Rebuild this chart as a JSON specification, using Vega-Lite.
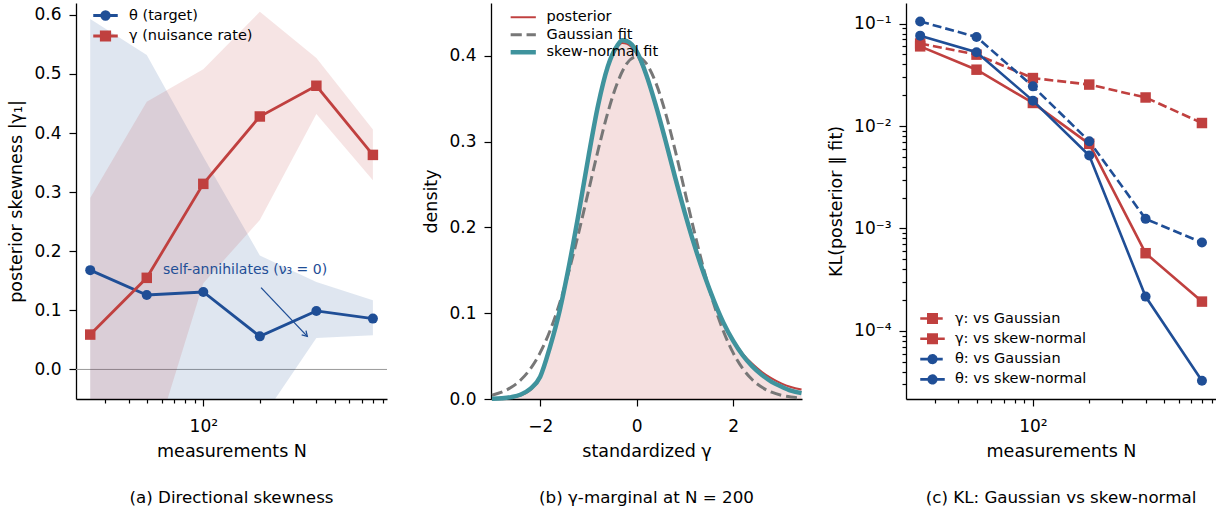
{
  "$schema": "https://vega.github.io/schema/vega-lite/v6.json",
  "padding": {"left": 7, "top": 3, "right": 0, "bottom": 0},
  "background": "white",
  "config": {
    "font": "DejaVu Sans",
    "view": {"stroke": null},
    "axis": {"domainColor": "#000", "domainWidth": 1.3, "tickColor": "#000", "tickWidth": 1.2, "tickSize": 7, "labelColor": "#000", "labelFontSize": 17, "labelPadding": 8, "titleColor": "#000", "titleFontSize": 17.5, "titleFontWeight": "normal", "titlePadding": 8, "grid": false, "labelFlush": false, "labelOverlap": false},
    "axisX": {"labelPadding": 12},
    "title": {"fontSize": 16.7, "fontWeight": "normal", "color": "#000", "orient": "bottom", "anchor": "middle", "offset": 30},
    "legend": {"labelFontSize": 14.5, "labelColor": "#000", "padding": 0}
  },
  "datasets": {
    "skewA": [
      {"N": 25, "series": "θ (target)", "val": 0.168, "lo": -0.3, "hi": 0.593},
      {"N": 50, "series": "θ (target)", "val": 0.126, "lo": -0.25, "hi": 0.532},
      {"N": 100, "series": "θ (target)", "val": 0.131, "lo": -0.2, "hi": 0.36},
      {"N": 200, "series": "θ (target)", "val": 0.056, "lo": -0.088, "hi": 0.193},
      {"N": 400, "series": "θ (target)", "val": 0.099, "lo": 0.053, "hi": 0.148},
      {"N": 800, "series": "θ (target)", "val": 0.086, "lo": 0.058, "hi": 0.117},
      {"N": 25, "series": "γ (nuisance rate)", "val": 0.059, "lo": -0.3, "hi": 0.29},
      {"N": 50, "series": "γ (nuisance rate)", "val": 0.155, "lo": -0.164, "hi": 0.453},
      {"N": 100, "series": "γ (nuisance rate)", "val": 0.314, "lo": 0.146, "hi": 0.508},
      {"N": 200, "series": "γ (nuisance rate)", "val": 0.428, "lo": 0.253, "hi": 0.605},
      {"N": 400, "series": "γ (nuisance rate)", "val": 0.48, "lo": 0.432, "hi": 0.527},
      {"N": 800, "series": "γ (nuisance rate)", "val": 0.363, "lo": 0.32, "hi": 0.406}
    ],
    "dens": [
      {"z": -3.0, "d": 0.0002, "curve": "posterior"},
      {"z": -2.8, "d": 0.0006, "curve": "posterior"},
      {"z": -2.6, "d": 0.0016, "curve": "posterior"},
      {"z": -2.4, "d": 0.0042, "curve": "posterior"},
      {"z": -2.2, "d": 0.0105, "curve": "posterior"},
      {"z": -2.0, "d": 0.0245, "curve": "posterior"},
      {"z": -1.8, "d": 0.059, "curve": "posterior"},
      {"z": -1.6, "d": 0.101, "curve": "posterior"},
      {"z": -1.4, "d": 0.156, "curve": "posterior"},
      {"z": -1.2, "d": 0.217, "curve": "posterior"},
      {"z": -1.0, "d": 0.282, "curve": "posterior"},
      {"z": -0.8, "d": 0.341, "curve": "posterior"},
      {"z": -0.6, "d": 0.386, "curve": "posterior"},
      {"z": -0.4, "d": 0.41, "curve": "posterior"},
      {"z": -0.3, "d": 0.415, "curve": "posterior"},
      {"z": -0.2, "d": 0.414, "curve": "posterior"},
      {"z": 0.0, "d": 0.402, "curve": "posterior"},
      {"z": 0.2, "d": 0.376, "curve": "posterior"},
      {"z": 0.4, "d": 0.34, "curve": "posterior"},
      {"z": 0.6, "d": 0.299, "curve": "posterior"},
      {"z": 0.8, "d": 0.256, "curve": "posterior"},
      {"z": 1.0, "d": 0.215, "curve": "posterior"},
      {"z": 1.2, "d": 0.177, "curve": "posterior"},
      {"z": 1.4, "d": 0.143, "curve": "posterior"},
      {"z": 1.6, "d": 0.114, "curve": "posterior"},
      {"z": 1.8, "d": 0.089, "curve": "posterior"},
      {"z": 2.0, "d": 0.069, "curve": "posterior"},
      {"z": 2.2, "d": 0.053, "curve": "posterior"},
      {"z": 2.4, "d": 0.041, "curve": "posterior"},
      {"z": 2.6, "d": 0.0315, "curve": "posterior"},
      {"z": 2.8, "d": 0.024, "curve": "posterior"},
      {"z": 3.0, "d": 0.0182, "curve": "posterior"},
      {"z": 3.2, "d": 0.014, "curve": "posterior"},
      {"z": 3.42, "d": 0.011, "curve": "posterior"},
      {"z": -3.0, "d": 0.00443, "curve": "Gaussian fit"},
      {"z": -2.8, "d": 0.00792, "curve": "Gaussian fit"},
      {"z": -2.6, "d": 0.01358, "curve": "Gaussian fit"},
      {"z": -2.4, "d": 0.02239, "curve": "Gaussian fit"},
      {"z": -2.2, "d": 0.03547, "curve": "Gaussian fit"},
      {"z": -2.0, "d": 0.05399, "curve": "Gaussian fit"},
      {"z": -1.8, "d": 0.07895, "curve": "Gaussian fit"},
      {"z": -1.6, "d": 0.11092, "curve": "Gaussian fit"},
      {"z": -1.4, "d": 0.14973, "curve": "Gaussian fit"},
      {"z": -1.2, "d": 0.19419, "curve": "Gaussian fit"},
      {"z": -1.0, "d": 0.24197, "curve": "Gaussian fit"},
      {"z": -0.8, "d": 0.28969, "curve": "Gaussian fit"},
      {"z": -0.6, "d": 0.33322, "curve": "Gaussian fit"},
      {"z": -0.4, "d": 0.36827, "curve": "Gaussian fit"},
      {"z": -0.2, "d": 0.39104, "curve": "Gaussian fit"},
      {"z": 0.0, "d": 0.39894, "curve": "Gaussian fit"},
      {"z": 0.2, "d": 0.39104, "curve": "Gaussian fit"},
      {"z": 0.4, "d": 0.36827, "curve": "Gaussian fit"},
      {"z": 0.6, "d": 0.33322, "curve": "Gaussian fit"},
      {"z": 0.8, "d": 0.28969, "curve": "Gaussian fit"},
      {"z": 1.0, "d": 0.24197, "curve": "Gaussian fit"},
      {"z": 1.2, "d": 0.19419, "curve": "Gaussian fit"},
      {"z": 1.4, "d": 0.14973, "curve": "Gaussian fit"},
      {"z": 1.6, "d": 0.11092, "curve": "Gaussian fit"},
      {"z": 1.8, "d": 0.07895, "curve": "Gaussian fit"},
      {"z": 2.0, "d": 0.05399, "curve": "Gaussian fit"},
      {"z": 2.2, "d": 0.03547, "curve": "Gaussian fit"},
      {"z": 2.4, "d": 0.02239, "curve": "Gaussian fit"},
      {"z": 2.6, "d": 0.01358, "curve": "Gaussian fit"},
      {"z": 2.8, "d": 0.00792, "curve": "Gaussian fit"},
      {"z": 3.0, "d": 0.00443, "curve": "Gaussian fit"},
      {"z": 3.2, "d": 0.00238, "curve": "Gaussian fit"},
      {"z": 3.42, "d": 0.00115, "curve": "Gaussian fit"},
      {"z": -3.0, "d": 0.0004, "curve": "skew-normal fit"},
      {"z": -2.8, "d": 0.0009, "curve": "skew-normal fit"},
      {"z": -2.6, "d": 0.0022, "curve": "skew-normal fit"},
      {"z": -2.4, "d": 0.0052, "curve": "skew-normal fit"},
      {"z": -2.2, "d": 0.012, "curve": "skew-normal fit"},
      {"z": -2.0, "d": 0.026, "curve": "skew-normal fit"},
      {"z": -1.8, "d": 0.06, "curve": "skew-normal fit"},
      {"z": -1.6, "d": 0.102, "curve": "skew-normal fit"},
      {"z": -1.4, "d": 0.156, "curve": "skew-normal fit"},
      {"z": -1.2, "d": 0.217, "curve": "skew-normal fit"},
      {"z": -1.0, "d": 0.282, "curve": "skew-normal fit"},
      {"z": -0.8, "d": 0.342, "curve": "skew-normal fit"},
      {"z": -0.6, "d": 0.387, "curve": "skew-normal fit"},
      {"z": -0.4, "d": 0.412, "curve": "skew-normal fit"},
      {"z": -0.3, "d": 0.418, "curve": "skew-normal fit"},
      {"z": -0.2, "d": 0.417, "curve": "skew-normal fit"},
      {"z": 0.0, "d": 0.405, "curve": "skew-normal fit"},
      {"z": 0.2, "d": 0.378, "curve": "skew-normal fit"},
      {"z": 0.4, "d": 0.342, "curve": "skew-normal fit"},
      {"z": 0.6, "d": 0.301, "curve": "skew-normal fit"},
      {"z": 0.8, "d": 0.258, "curve": "skew-normal fit"},
      {"z": 1.0, "d": 0.217, "curve": "skew-normal fit"},
      {"z": 1.2, "d": 0.179, "curve": "skew-normal fit"},
      {"z": 1.4, "d": 0.145, "curve": "skew-normal fit"},
      {"z": 1.6, "d": 0.115, "curve": "skew-normal fit"},
      {"z": 1.8, "d": 0.089, "curve": "skew-normal fit"},
      {"z": 2.0, "d": 0.068, "curve": "skew-normal fit"},
      {"z": 2.2, "d": 0.051, "curve": "skew-normal fit"},
      {"z": 2.4, "d": 0.038, "curve": "skew-normal fit"},
      {"z": 2.6, "d": 0.028, "curve": "skew-normal fit"},
      {"z": 2.8, "d": 0.02, "curve": "skew-normal fit"},
      {"z": 3.0, "d": 0.0145, "curve": "skew-normal fit"},
      {"z": 3.2, "d": 0.0098, "curve": "skew-normal fit"},
      {"z": 3.42, "d": 0.0068, "curve": "skew-normal fit"}
    ],
    "kl": [
      {"N": 25, "series": "γ: vs Gaussian", "kl": 0.064},
      {"N": 50, "series": "γ: vs Gaussian", "kl": 0.0498},
      {"N": 100, "series": "γ: vs Gaussian", "kl": 0.0294},
      {"N": 200, "series": "γ: vs Gaussian", "kl": 0.0254},
      {"N": 400, "series": "γ: vs Gaussian", "kl": 0.019},
      {"N": 800, "series": "γ: vs Gaussian", "kl": 0.0107},
      {"N": 25, "series": "γ: vs skew-normal", "kl": 0.06},
      {"N": 50, "series": "γ: vs skew-normal", "kl": 0.0355},
      {"N": 100, "series": "γ: vs skew-normal", "kl": 0.0168},
      {"N": 200, "series": "γ: vs skew-normal", "kl": 0.0067},
      {"N": 400, "series": "γ: vs skew-normal", "kl": 0.000573},
      {"N": 800, "series": "γ: vs skew-normal", "kl": 0.000193},
      {"N": 25, "series": "θ: vs Gaussian", "kl": 0.105},
      {"N": 50, "series": "θ: vs Gaussian", "kl": 0.074},
      {"N": 100, "series": "θ: vs Gaussian", "kl": 0.0244},
      {"N": 200, "series": "θ: vs Gaussian", "kl": 0.0071},
      {"N": 400, "series": "θ: vs Gaussian", "kl": 0.00124},
      {"N": 800, "series": "θ: vs Gaussian", "kl": 0.000728},
      {"N": 25, "series": "θ: vs skew-normal", "kl": 0.0763},
      {"N": 50, "series": "θ: vs skew-normal", "kl": 0.0525},
      {"N": 100, "series": "θ: vs skew-normal", "kl": 0.0177},
      {"N": 200, "series": "θ: vs skew-normal", "kl": 0.00516},
      {"N": 400, "series": "θ: vs skew-normal", "kl": 0.000216},
      {"N": 800, "series": "θ: vs skew-normal", "kl": 0.0000326}
    ]
  },
  "spacing": 104,
  "bounds": "flush",
  "resolve": {"scale": {"color": "independent"}},
  "hconcat": [
    {
      "width": 311,
      "height": 396,
      "title": {"text": "(a)  Directional skewness"},
      "resolve": {"axis": {"x": "independent", "y": "independent"}},
      "layer": [
        {
          "data": {"values": [{"v": 0}]},
          "mark": {"type": "rule", "color": "#9a9a9a", "strokeWidth": 1},
          "encoding": {"y": {"field": "v", "type": "quantitative", "axis": null, "scale": {"domain": [-0.05, 0.62], "nice": false, "zero": false}}}
        },
        {
          "data": {"name": "skewA"},
          "transform": [{"filter": "datum.series === 'θ (target)'"}],
          "mark": {"type": "area", "color": "#1f4e96", "opacity": 0.14, "clip": true},
          "encoding": {
            "x": {"field": "N", "type": "quantitative", "scale": {"type": "log", "domain": [21, 951], "nice": false}, "axis": null},
            "y": {"field": "lo", "type": "quantitative", "axis": null, "scale": {"domain": [-0.05, 0.62], "nice": false, "zero": false}},
            "y2": {"field": "hi"}
          }
        },
        {
          "data": {"name": "skewA"},
          "transform": [{"filter": "datum.series === 'γ (nuisance rate)'"}],
          "mark": {"type": "area", "color": "#c0403f", "opacity": 0.14, "clip": true},
          "encoding": {
            "x": {"field": "N", "type": "quantitative", "scale": {"type": "log", "domain": [21, 951], "nice": false}, "axis": null},
            "y": {"field": "lo", "type": "quantitative", "axis": null, "scale": {"domain": [-0.05, 0.62], "nice": false, "zero": false}},
            "y2": {"field": "hi"}
          }
        },
        {
          "data": {"name": "skewA"},
          "mark": {"type": "line", "strokeWidth": 2.8},
          "encoding": {
            "x": {"field": "N", "type": "quantitative", "scale": {"type": "log", "domain": [21, 951], "nice": false}, "axis": {"values": [100], "labelExpr": "'10²'", "title": "measurements N", "orient": "bottom"}},
            "y": {"field": "val", "type": "quantitative", "scale": {"domain": [-0.05, 0.62], "nice": false, "zero": false}, "axis": {"values": [0, 0.1, 0.2, 0.3, 0.4, 0.5, 0.6], "format": ".1f", "title": "posterior skewness |γ₁|", "orient": "left"}},
            "color": {
              "field": "series", "type": "nominal",
              "scale": {"domain": ["θ (target)", "γ (nuisance rate)"], "range": ["#1f4e96", "#c0403f"]},
              "legend": {
                "title": null, "orient": "none", "legendX": 21, "legendY": 4, "symbolType": "M-1.75,0L1.75,0", "symbolSize": 196, "symbolStrokeWidth": 2.8, "labelOffset": 15, "rowPadding": 0.5, "labelFontSize": 14.5,
                "encode": {"symbols": {"update": {
                  "shape": {"signal": "datum.index === 0 ? 'M-1.75,0L1.75,0M-0.54,0A0.54,0.54,0,1,1,0.54,0A0.54,0.54,0,1,1,-0.54,0Z' : 'M-1.75,0L1.75,0M-0.6,-0.6L0.6,-0.6L0.6,0.6L-0.6,0.6Z'"},
                  "fill": {"signal": "datum.index === 0 ? '#1f4e96' : '#c0403f'"},
                  "stroke": {"signal": "datum.index === 0 ? '#1f4e96' : '#c0403f'"},
                  "strokeWidth": {"value": 2.8},
                  "opacity": {"value": 1},
                  "fillOpacity": {"value": 1},
                  "strokeOpacity": {"value": 1}
                }}}
              }
            }
          }
        },
        {
          "data": {"name": "skewA"},
          "transform": [{"filter": "datum.series === 'θ (target)'"}],
          "mark": {"type": "point", "filled": true, "shape": "circle", "size": 100, "opacity": 1, "color": "#1f4e96"},
          "encoding": {
            "x": {"field": "N", "type": "quantitative", "scale": {"type": "log", "domain": [21, 951], "nice": false}, "axis": {"values": [30, 40, 50, 60, 70, 80, 90, 200, 300, 400, 500, 600, 700, 800, 900], "labels": false, "tickSize": 4, "domain": false, "title": null, "orient": "bottom"}},
            "y": {"field": "val", "type": "quantitative", "axis": null, "scale": {"domain": [-0.05, 0.62], "nice": false, "zero": false}}
          }
        },
        {
          "data": {"name": "skewA"},
          "transform": [{"filter": "datum.series === 'γ (nuisance rate)'"}],
          "mark": {"type": "point", "filled": true, "shape": "square", "size": 110, "opacity": 1, "color": "#c0403f"},
          "encoding": {
            "x": {"field": "N", "type": "quantitative", "scale": {"type": "log", "domain": [21, 951], "nice": false}, "axis": null},
            "y": {"field": "val", "type": "quantitative", "axis": null, "scale": {"domain": [-0.05, 0.62], "nice": false, "zero": false}}
          }
        },
        {
          "data": {"values": [{"N": 61, "v": 0.168, "t": "self-annihilates (ν₃ = 0)"}]},
          "mark": {"type": "text", "align": "left", "baseline": "middle", "fontSize": 14, "color": "#1f4e96"},
          "encoding": {
            "x": {"field": "N", "type": "quantitative", "scale": {"type": "log", "domain": [21, 951], "nice": false}, "axis": null},
            "y": {"field": "v", "type": "quantitative", "axis": null, "scale": {"domain": [-0.05, 0.62], "nice": false, "zero": false}},
            "text": {"field": "t"}
          }
        },
        {
          "data": {"values": [{"N1": 203, "v1": 0.1385, "N2": 358, "v2": 0.0559}]},
          "mark": {"type": "rule", "color": "#1f4e96", "strokeWidth": 1.3},
          "encoding": {
            "x": {"field": "N1", "type": "quantitative", "scale": {"type": "log", "domain": [21, 951], "nice": false}, "axis": null},
            "y": {"field": "v1", "type": "quantitative", "axis": null, "scale": {"domain": [-0.05, 0.62], "nice": false, "zero": false}},
            "x2": {"field": "N2"},
            "y2": {"field": "v2"}
          }
        },
        {
          "data": {"values": [{"N2": 358, "v2": 0.0559}]},
          "mark": {"type": "point", "shape": "M-0.6,1L0,0L0.6,1", "size": 100, "angle": 136, "filled": false, "stroke": "#1f4e96", "strokeWidth": 1.3, "opacity": 1},
          "encoding": {
            "x": {"field": "N2", "type": "quantitative", "scale": {"type": "log", "domain": [21, 951], "nice": false}, "axis": null},
            "y": {"field": "v2", "type": "quantitative", "axis": null, "scale": {"domain": [-0.05, 0.62], "nice": false, "zero": false}}
          }
        }
      ]
    },
    {
      "width": 311,
      "height": 396,
      "title": {"text": "(b)  γ-marginal at N = 200"},
      "data": {"name": "dens"},
      "encoding": {
        "x": {"field": "z", "type": "quantitative", "scale": {"domain": [-3.02, 3.43], "nice": false, "zero": false}, "axis": {"values": [-2, 0, 2], "labelExpr": "replace(datum.label, '-', '−')", "title": "standardized γ"}},
        "y": {"field": "d", "type": "quantitative", "scale": {"domain": [0, 0.4615], "nice": false}, "axis": {"values": [0, 0.1, 0.2, 0.3, 0.4], "format": ".1f", "title": "density"}}
      },
      "layer": [
        {
          "transform": [{"filter": "datum.curve === 'posterior'"}],
          "mark": {"type": "area", "color": "#c0403f", "opacity": 0.16, "interpolate": "monotone"}
        },
        {
          "transform": [{"filter": "datum.curve === 'posterior'"}],
          "mark": {"type": "line", "strokeWidth": 2, "interpolate": "monotone"},
          "encoding": {
            "color": {
              "field": "curve", "type": "nominal",
              "scale": {"domain": ["posterior", "Gaussian fit", "skew-normal fit"], "range": ["#c0403f", "#777777", "#3f939d"]},
              "legend": {
                "title": null, "orient": "none", "legendX": 25, "legendY": 7, "symbolType": "M-1.8,-0.14L1.8,-0.14L1.8,0.14L-1.8,0.14Z", "symbolSize": 196, "symbolStrokeWidth": 0, "labelOffset": 16, "rowPadding": 2.5, "labelFontSize": 14.5,
                "encode": {"symbols": {"update": {
                  "shape": {"signal": "['M-1.8,-0.14L1.8,-0.14L1.8,0.14L-1.8,0.14Z', 'M-1.8,-0.21L-0.21,-0.21L-0.21,0.21L-1.8,0.21ZM0.47,-0.21L1.8,-0.21L1.8,0.21L0.47,0.21Z', 'M-1.8,-0.32L1.8,-0.32L1.8,0.32L-1.8,0.32Z'][datum.index]"},
                  "fill": {"signal": "['#c0403f', '#777777', '#3f939d'][datum.index]"},
                  "stroke": {"value": "transparent"},
                  "strokeWidth": {"value": 0},
                  "strokeDash": {"value": [1, 0]},
                  "opacity": {"value": 1},
                  "fillOpacity": {"value": 1}
                }}}
              }
            }
          }
        },
        {
          "transform": [{"filter": "datum.curve === 'Gaussian fit'"}],
          "mark": {"type": "line", "strokeWidth": 3, "strokeDash": [11, 5], "interpolate": "monotone"},
          "encoding": {"color": {"field": "curve", "type": "nominal", "scale": {"domain": ["posterior", "Gaussian fit", "skew-normal fit"], "range": ["#c0403f", "#777777", "#3f939d"]}}}
        },
        {
          "transform": [{"filter": "datum.curve === 'skew-normal fit'"}],
          "mark": {"type": "line", "strokeWidth": 4.5, "interpolate": "monotone"},
          "encoding": {"color": {"field": "curve", "type": "nominal", "scale": {"domain": ["posterior", "Gaussian fit", "skew-normal fit"], "range": ["#c0403f", "#777777", "#3f939d"]}}}
        }
      ]
    },
    {
      "width": 310,
      "height": 396,
      "title": {"text": "(c)  KL: Gaussian vs skew-normal"},
      "data": {"name": "kl"},
      "resolve": {"axis": {"x": "independent", "y": "independent"}},
      "layer": [
        {
          "transform": [{"filter": "datum.series === 'γ: vs Gaussian'"}],
          "mark": {"type": "line", "strokeWidth": 2.6, "strokeDash": [9, 4]},
          "encoding": {
            "x": {"field": "N", "type": "quantitative", "scale": {"type": "log", "domain": [21, 951], "nice": false}, "axis": {"values": [100], "labelExpr": "'10²'", "title": "measurements N", "orient": "bottom"}},
            "y": {"field": "kl", "type": "quantitative", "scale": {"type": "log", "domain": [0.0000216, 0.159], "nice": false}, "axis": {"values": [0.0001, 0.001, 0.01, 0.1], "labelExpr": "'10' + (datum.value < 0.0005 ? '⁻⁴' : datum.value < 0.005 ? '⁻³' : datum.value < 0.05 ? '⁻²' : '⁻¹')", "title": "KL(posterior ∥ fit)", "orient": "left"}},
            "color": {
              "field": "series", "type": "nominal",
              "scale": {"domain": ["γ: vs Gaussian", "γ: vs skew-normal", "θ: vs Gaussian", "θ: vs skew-normal"], "range": ["#c0403f", "#c0403f", "#1f4e96", "#1f4e96"]},
              "legend": {
                "title": null, "orient": "none", "legendX": 18, "legendY": 307, "symbolType": "M-1.75,0L1.75,0", "symbolSize": 196, "symbolStrokeWidth": 2.6, "labelOffset": 14, "rowPadding": 1.3, "labelFontSize": 14.5,
                "encode": {"symbols": {"update": {
                  "shape": {"signal": "['M-1.75,0L-0.43,0M0.14,0L1.46,0M-0.6,-0.6L0.6,-0.6L0.6,0.6L-0.6,0.6Z', 'M-1.75,0L1.75,0M-0.6,-0.6L0.6,-0.6L0.6,0.6L-0.6,0.6Z', 'M-1.75,0L-0.43,0M0.14,0L1.46,0M-0.54,0A0.54,0.54,0,1,1,0.54,0A0.54,0.54,0,1,1,-0.54,0Z', 'M-1.75,0L1.75,0M-0.54,0A0.54,0.54,0,1,1,0.54,0A0.54,0.54,0,1,1,-0.54,0Z'][datum.index]"},
                  "fill": {"signal": "datum.index < 2 ? '#c0403f' : '#1f4e96'"},
                  "stroke": {"signal": "datum.index < 2 ? '#c0403f' : '#1f4e96'"},
                  "strokeWidth": {"value": 2.6},
                  "strokeDash": {"value": [1, 0]},
                  "opacity": {"value": 1},
                  "fillOpacity": {"value": 1},
                  "strokeOpacity": {"value": 1}
                }}}
              }
            }
          }
        },
        {
          "transform": [{"filter": "datum.series === 'γ: vs Gaussian'"}],
          "mark": {"type": "point", "filled": true, "shape": "square", "size": 110, "opacity": 1, "color": "#c0403f"},
          "encoding": {
            "x": {"field": "N", "type": "quantitative", "scale": {"type": "log", "domain": [21, 951], "nice": false}, "axis": {"values": [30, 40, 50, 60, 70, 80, 90, 200, 300, 400, 500, 600, 700, 800, 900], "labels": false, "tickSize": 4, "domain": false, "title": null, "orient": "bottom"}},
            "y": {"field": "kl", "type": "quantitative", "scale": {"type": "log", "domain": [0.0000216, 0.159], "nice": false}, "axis": {"values": [0.00003, 0.00004, 0.00005, 0.00006, 0.00007, 0.00008, 0.00009, 0.0002, 0.0003, 0.0004, 0.0005, 0.0006, 0.0007, 0.0008, 0.0009, 0.002, 0.003, 0.004, 0.005, 0.006, 0.007, 0.008, 0.009, 0.02, 0.03, 0.04, 0.05, 0.06, 0.07, 0.08, 0.09], "labels": false, "tickSize": 4, "domain": false, "title": null, "orient": "left"}}
          }
        },
        {
          "transform": [{"filter": "datum.series === 'γ: vs skew-normal'"}],
          "mark": {"type": "line", "strokeWidth": 2.6},
          "encoding": {
            "x": {"field": "N", "type": "quantitative", "scale": {"type": "log", "domain": [21, 951], "nice": false}, "axis": null},
            "y": {"field": "kl", "type": "quantitative", "scale": {"type": "log", "domain": [0.0000216, 0.159], "nice": false}, "axis": null},
            "color": {"field": "series", "type": "nominal", "scale": {"domain": ["γ: vs Gaussian", "γ: vs skew-normal", "θ: vs Gaussian", "θ: vs skew-normal"], "range": ["#c0403f", "#c0403f", "#1f4e96", "#1f4e96"]}}
          }
        },
        {
          "transform": [{"filter": "datum.series === 'γ: vs skew-normal'"}],
          "mark": {"type": "point", "filled": true, "shape": "square", "size": 110, "opacity": 1, "color": "#c0403f"},
          "encoding": {
            "x": {"field": "N", "type": "quantitative", "scale": {"type": "log", "domain": [21, 951], "nice": false}, "axis": null},
            "y": {"field": "kl", "type": "quantitative", "scale": {"type": "log", "domain": [0.0000216, 0.159], "nice": false}, "axis": null}
          }
        },
        {
          "transform": [{"filter": "datum.series === 'θ: vs Gaussian'"}],
          "mark": {"type": "line", "strokeWidth": 2.6, "strokeDash": [9, 4]},
          "encoding": {
            "x": {"field": "N", "type": "quantitative", "scale": {"type": "log", "domain": [21, 951], "nice": false}, "axis": null},
            "y": {"field": "kl", "type": "quantitative", "scale": {"type": "log", "domain": [0.0000216, 0.159], "nice": false}, "axis": null},
            "color": {"field": "series", "type": "nominal", "scale": {"domain": ["γ: vs Gaussian", "γ: vs skew-normal", "θ: vs Gaussian", "θ: vs skew-normal"], "range": ["#c0403f", "#c0403f", "#1f4e96", "#1f4e96"]}}
          }
        },
        {
          "transform": [{"filter": "datum.series === 'θ: vs Gaussian'"}],
          "mark": {"type": "point", "filled": true, "shape": "circle", "size": 100, "opacity": 1, "color": "#1f4e96"},
          "encoding": {
            "x": {"field": "N", "type": "quantitative", "scale": {"type": "log", "domain": [21, 951], "nice": false}, "axis": null},
            "y": {"field": "kl", "type": "quantitative", "scale": {"type": "log", "domain": [0.0000216, 0.159], "nice": false}, "axis": null}
          }
        },
        {
          "transform": [{"filter": "datum.series === 'θ: vs skew-normal'"}],
          "mark": {"type": "line", "strokeWidth": 2.6},
          "encoding": {
            "x": {"field": "N", "type": "quantitative", "scale": {"type": "log", "domain": [21, 951], "nice": false}, "axis": null},
            "y": {"field": "kl", "type": "quantitative", "scale": {"type": "log", "domain": [0.0000216, 0.159], "nice": false}, "axis": null},
            "color": {"field": "series", "type": "nominal", "scale": {"domain": ["γ: vs Gaussian", "γ: vs skew-normal", "θ: vs Gaussian", "θ: vs skew-normal"], "range": ["#c0403f", "#c0403f", "#1f4e96", "#1f4e96"]}}
          }
        },
        {
          "transform": [{"filter": "datum.series === 'θ: vs skew-normal'"}],
          "mark": {"type": "point", "filled": true, "shape": "circle", "size": 100, "opacity": 1, "color": "#1f4e96"},
          "encoding": {
            "x": {"field": "N", "type": "quantitative", "scale": {"type": "log", "domain": [21, 951], "nice": false}, "axis": null},
            "y": {"field": "kl", "type": "quantitative", "scale": {"type": "log", "domain": [0.0000216, 0.159], "nice": false}, "axis": null}
          }
        }
      ]
    }
  ]
}
